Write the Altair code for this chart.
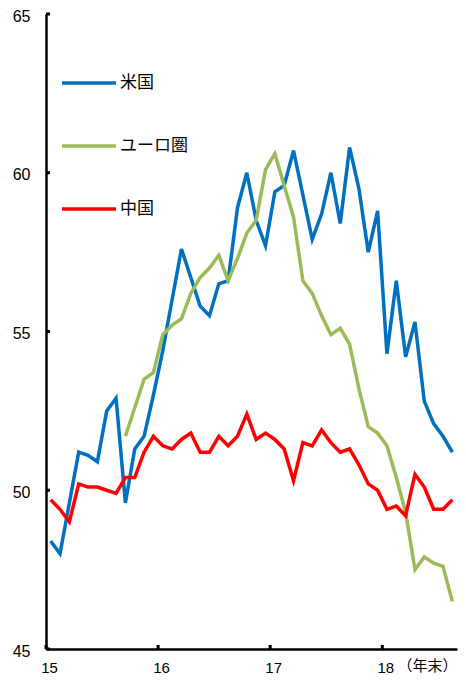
import altair as alt
import pandas as pd

series_names = ["米国", "ユーロ圏", "中国"]
colors = ["#0070C0", "#9BBB59", "#FF0000"]

us = [48.4, 48.0, 49.6, 51.2, 51.1, 50.9, 52.5, 52.9, 49.6, 51.3, 51.7, 53.0,
      54.4, 56.0, 57.6, 56.7, 55.8, 55.5, 56.5, 56.6, 58.9, 60.0, 58.5, 57.7,
      59.4, 59.6, 60.7, 59.3, 57.9, 58.7, 60.0, 58.4, 60.8, 59.5, 57.5, 58.8,
      54.3, 56.6, 54.2, 55.3, 52.8, 52.1, 51.7, 51.2]
euro = [None, None, None, None, None, None, None, None,
        51.7, 52.6, 53.5, 53.7,
        54.9, 55.2, 55.4, 56.2, 56.7, 57.0, 57.4, 56.6, 57.3, 58.1, 58.5, 60.1,
        60.6, 59.6, 58.6, 56.6, 56.2, 55.5, 54.9, 55.1, 54.6, 53.2, 52.0, 51.8,
        51.4, 50.4, 49.3, 47.5, 47.9, 47.7, 47.6, 46.5]
china = [49.7, 49.4, 49.0, 50.2, 50.1, 50.1, 50.0, 49.9, 50.4, 50.4, 51.2, 51.7,
         51.4, 51.3, 51.6, 51.8, 51.2, 51.2, 51.7, 51.4, 51.7, 52.4, 51.6, 51.8,
         51.6, 51.3, 50.3, 51.5, 51.4, 51.9, 51.5, 51.2, 51.3, 50.8, 50.2, 50.0,
         49.4, 49.5, 49.2, 50.5, 50.1, 49.4, 49.4, 49.7]

year_ticks = [0, 12, 24, 36]
year_labels = ["15", "16", "17", "18"]
y_ticks = [45, 50, 55, 60, 65]
n_months = 44

rows = []
for name, vals in zip(series_names, [us, euro, china]):
    for i, v in enumerate(vals):
        if v is not None:
            rows.append({"series": name, "m": i + 0.5, "v": v})
df = pd.DataFrame(rows)

label_expr = "''"
for t, lab in zip(reversed(year_ticks), reversed(year_labels)):
    label_expr = f"datum.value == {t} ? '{lab}' : ({label_expr})"

W, H = 411, 635
xscale = alt.Scale(domain=[0, n_months], nice=False, zero=False)
yscale = alt.Scale(domain=[45, 65], nice=False, zero=False)
num_font = "Liberation Sans"
cjk_font = "Noto Sans CJK JP"

x_axis = alt.Axis(values=year_ticks, labelExpr=label_expr,
                  title="（年末）", titleFont=cjk_font, titleFontSize=15,
                  titleFontWeight="normal", titleColor="black",
                  titleAnchor="end", titleAlign="right",
                  titleX=W, titleY=16, titleBaseline="middle",
                  ticks=False, tickSize=0, grid=False,
                  domainColor="black", domainWidth=2.5,
                  labelFont=num_font, labelFontSize=15, labelColor="black",
                  labelPadding=11, labelOffset=3, labelFlush=False)
y_axis = alt.Axis(values=y_ticks, title=None, ticks=False, tickSize=0,
                  grid=False, domainColor="black", domainWidth=2.5,
                  labelFont=num_font, labelFontSize=16, labelColor="black",
                  labelPadding=16, labelOffset=2)

lines = alt.Chart(df).mark_line(strokeWidth=3.5).encode(
    x=alt.X("m:Q", scale=xscale, axis=x_axis),
    y=alt.Y("v:Q", scale=yscale, axis=y_axis),
    color=alt.Color("series:N",
                    scale=alt.Scale(domain=series_names, range=colors),
                    legend=alt.Legend(orient="none", legendX=14, legendY=40,
                                      title=None, symbolType="stroke",
                                      symbolSize=2916, symbolStrokeWidth=3.5,
                                      labelFont=cjk_font, labelFontSize=17,
                                      labelColor="black", labelOffset=2,
                                      rowPadding=26, padding=0,
                                      direction="vertical")),
)

ytick_df = pd.DataFrame({"v": y_ticks})
yticks = alt.Chart(ytick_df).mark_rule(color="black", strokeWidth=3).encode(
    y=alt.Y("v:Q", scale=yscale, axis=y_axis),
    x=alt.value(0), x2=alt.value(4),
)

xtick_df = pd.DataFrame({"m": year_ticks})
xticks = alt.Chart(xtick_df).mark_rule(color="black", strokeWidth=3).encode(
    x=alt.X("m:Q", scale=xscale, axis=x_axis),
    y=alt.value(H), y2=alt.value(H - 4),
)

chart = alt.layer(lines, yticks, xticks).properties(
    width=W, height=H,
    autosize=alt.AutoSizeParams(type="none"),
    padding={"left": 38, "top": 6, "right": 1, "bottom": 27},
).configure_view(stroke=None)

chart.save("out.html", embed_options={"renderer": "svg", "actions": False})
